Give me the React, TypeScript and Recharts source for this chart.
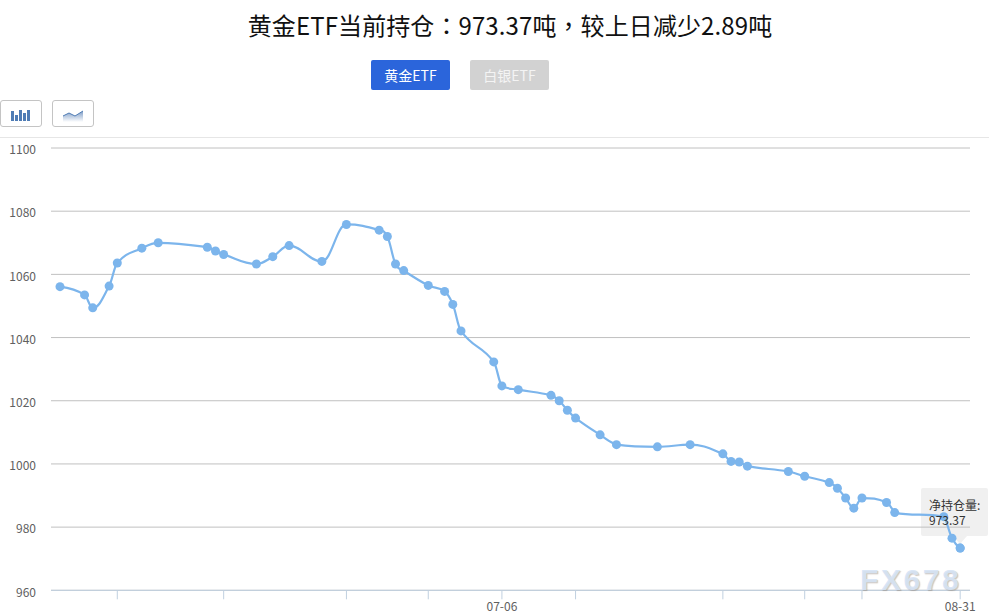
import { LineChart, Line, XAxis, YAxis, CartesianGrid, Tooltip } from 'recharts';

const FONT = '"Noto Sans CJK SC", "Noto Sans", sans-serif';

const dates = [
  '05-13', '05-16', '05-17', '05-19', '05-20', '05-23', '05-25', '05-31', '06-01', '06-02',
  '06-06', '06-08', '06-10', '06-14', '06-17', '06-21', '06-22', '06-23', '06-24', '06-27',
  '06-29', '06-30', '07-01', '07-05', '07-06', '07-08', '07-12', '07-13', '07-14', '07-15',
  '07-18', '07-20', '07-25', '07-29', '08-02', '08-03', '08-04', '08-05', '08-10', '08-12',
  '08-15', '08-16', '08-17', '08-18', '08-19', '08-22', '08-23', '08-29', '08-30', '08-31',
];

const holdings = [
  1056.1, 1053.5, 1049.4, 1056.3, 1063.6, 1068.3, 1070, 1068.6, 1067.4, 1066.3,
  1063.3, 1065.6, 1069.1, 1064.1, 1075.8, 1074, 1072, 1063.3, 1061.2, 1056.5,
  1054.6, 1050.5, 1042.1, 1032.3, 1024.7, 1023.5, 1021.7, 1020, 1017, 1014.5,
  1009.2, 1006.1, 1005.4, 1006.1, 1003.2, 1000.8, 1000.6, 999.3, 997.6, 996.1,
  994.1, 992.3, 989.2, 986, 989.2, 987.8, 984.6, 983.3, 976.5, 973.37,
];

const xTickDates = ['05-20', '06-02', '06-17', '06-27', '07-06', '07-15', '08-02', '08-12', '08-19', '08-31'];
const xLabelDates = ['07-06', '08-31'];
const yTicks = [960, 980, 1000, 1020, 1040, 1060, 1080, 1100];

// days since the first record, so gaps between records stay visible on the axis
const toDay = (d: string) => {
  const [m, day] = d.split('-').map(Number);
  return (Date.UTC(2022, m - 1, day) - Date.UTC(2022, 4, 13)) / 86400000;
};

const chartData = dates.map((d, i) => ({ day: toDay(d), date: d, value: holdings[i] }));
const xTicks = xTickDates.map(toDay);
const xLabels = xLabelDates.map(toDay);

// spline with the soft shoulders of the original, control points clamped at local extremes
function softSpline(context: any) {
  let pts: [number, number][] = [];
  const smoothing = 1.5;
  return {
    areaStart() {},
    areaEnd() {},
    lineStart() {
      pts = [];
    },
    point(x: number, y: number) {
      pts.push([+x, +y]);
    },
    lineEnd() {
      if (!pts.length) return;
      context.moveTo(pts[0][0], pts[0][1]);
      let rx = pts[0][0];
      let ry = pts[0][1];
      for (let i = 1; i < pts.length; i++) {
        const [x, y] = pts[i];
        let lx = x;
        let ly = y;
        let nrx = x;
        let nry = y;
        if (i < pts.length - 1) {
          const [px, py] = pts[i - 1];
          const [nx, ny] = pts[i + 1];
          const d = smoothing + 1;
          lx = (smoothing * x + px) / d;
          ly = (smoothing * y + py) / d;
          nrx = (smoothing * x + nx) / d;
          nry = (smoothing * y + ny) / d;
          const c = ((nry - ly) * (nrx - x)) / (nrx - lx) + y - nry;
          ly += c;
          nry += c;
          if (ly > y && ly > py) {
            ly = Math.max(py, y);
            nry = 2 * y - ly;
          } else if (ly < y && ly < py) {
            ly = Math.min(py, y);
            nry = 2 * y - ly;
          }
          if (nry > y && nry > ny) {
            nry = Math.max(y, ny);
            ly = 2 * y - nry;
          } else if (nry < y && nry < ny) {
            nry = Math.min(y, ny);
            ly = 2 * y - nry;
          }
        }
        context.bezierCurveTo(rx, ry, lx, ly, x, y);
        rx = nrx;
        ry = nry;
      }
    },
  };
}

// only the words: the grey box sits under the chart so the line stays on top of it
function HoldingTip({ payload }: any) {
  const v = payload && payload[0] ? payload[0].value : holdings[holdings.length - 1];
  return (
    <div style={{ width: 67, height: 48, fontFamily: FONT, fontSize: 12, color: '#333', lineHeight: '15px', boxSizing: 'border-box', padding: '9px 0 0 8px', whiteSpace: 'nowrap' }}>
      <div>净持仓量:</div>
      <div>{v}</div>
    </div>
  );
}

function Button({ left, bg, label, color }: { left: number; bg: string; label: string; color: string }) {
  return (
    <div style={{ position: 'absolute', left, top: 60, width: 79, height: 30, background: bg, color, borderRadius: 2, fontSize: 14, lineHeight: '30px', textAlign: 'center' }}>
      {label}
    </div>
  );
}

export default function App() {
  return (
    <div style={{ position: 'absolute', left: 0, top: 0, zIndex: 0, width: 989, height: 616, overflow: 'hidden', background: '#fff', fontFamily: FONT }}>
      <div style={{ position: 'absolute', left: 0, top: 7, width: 1020, textAlign: 'center', fontFamily: '"Noto Sans CJK TC", sans-serif', fontSize: 24, letterSpacing: 0.1, lineHeight: '36px', color: '#111' }}>
        黄金ETF当前持仓：973.37吨，较上日减少2.89吨
      </div>
      <Button left={371} bg="#2b65db" label="黄金ETF" color="#fff" />
      <Button left={470} bg="#d2d2d2" label="白银ETF" color="#f4f4f4" />

      <div style={{ position: 'absolute', left: 0, top: 100, width: 40, height: 25, border: '1px solid #c4c4c4', borderRadius: 3 }}>
        <svg width="40" height="25" style={{ display: 'block' }}>
          <path d="M10 10h3v10h-3zM14 14h3v6h-3zM18 9h3v11h-3zM22 12h3v8h-3zM26 9h3v11h-3z" fill="#4f7cb5" />
        </svg>
      </div>
      <div style={{ position: 'absolute', left: 52, top: 100, width: 40, height: 25, border: '1px solid #c4c4c4', borderRadius: 3 }}>
        <svg width="40" height="25" style={{ display: 'block' }}>
          <defs>
            <linearGradient id="iconArea" x1="0" y1="0" x2="0" y2="1">
              <stop offset="0" stopColor="#7d9cc6" />
              <stop offset="1" stopColor="#ffffff" />
            </linearGradient>
          </defs>
          <path d="M10 15l6-3 6 3 8-5v11H10z" fill="url(#iconArea)" />
          <path d="M10 15l6-3 6 3 8-5" fill="none" stroke="#4f7cb5" strokeWidth="1" />
        </svg>
      </div>
      <div style={{ position: 'absolute', left: 0, top: 137, width: 989, height: 1, background: '#e6e6e6' }} />

      <div style={{ position: 'absolute', left: 921, top: 488, width: 67, height: 48, background: '#f0f0f0', borderRadius: 2 }} />
      <div style={{ position: 'absolute', left: 953, top: 536, width: 0, height: 0, borderLeft: '7px solid transparent', borderRight: '7px solid transparent', borderTop: '8px solid #f0f0f0' }} />

      <LineChart
        width={989}
        height={616}
        data={chartData}
        margin={{ top: 148, right: 19, bottom: 0, left: 0 }}
        style={{ position: 'absolute', left: 0, top: 0 }}
      >
        <CartesianGrid horizontal vertical={false} stroke="#c0c0c0" strokeWidth={1} />
        <XAxis
          dataKey="day"
          type="number"
          scale="linear"
          domain={[-1.1, 111.2]}
          ticks={xTicks}
          interval={0}
          height={25.7}
          tickSize={9}
          tickMargin={3}
          stroke="#c0d0e0"
          tick={{ fontSize: 12, fill: '#606060', fontFamily: FONT }}
          tickFormatter={(v: number) => {
            const i = xLabels.indexOf(v);
            return i >= 0 ? xLabelDates[i] : '';
          }}
        />
        <YAxis
          width={51}
          domain={[960, 1100]}
          ticks={yTicks}
          interval={0}
          axisLine={false}
          tickLine={false}
          tickSize={0}
          tickMargin={15}
          tick={{ fontSize: 12, fill: '#606060', fontFamily: FONT, dy: 2 }}
        />
        <Tooltip
          defaultIndex={holdings.length - 1}
          position={{ x: 921, y: 488 }}
          cursor={false}
          allowEscapeViewBox={{ x: true, y: true }}
          wrapperStyle={{ outline: 'none' }}
          isAnimationActive={false}
          content={<HoldingTip />}
        />
        <Line
          type={softSpline as any}
          dataKey="value"
          stroke="#7cb5ec"
          strokeWidth={2.2}
          dot={{ r: 4.5, fill: '#7cb5ec', stroke: '#7cb5ec', strokeWidth: 0 }}
          activeDot={{ r: 4.5, fill: '#7cb5ec', stroke: '#7cb5ec', strokeWidth: 0 }}
          isAnimationActive={false}
        />
      </LineChart>

      <div style={{ position: 'absolute', left: 860, top: 560, fontFamily: '"Liberation Sans", sans-serif', fontSize: 30, fontWeight: 700, letterSpacing: 2.6, lineHeight: '40px', color: 'rgba(214,228,246,0.9)', textShadow: '1px 1px 1px rgba(130,110,90,0.4)' }}>
        FX678
      </div>
    </div>
  );
}
